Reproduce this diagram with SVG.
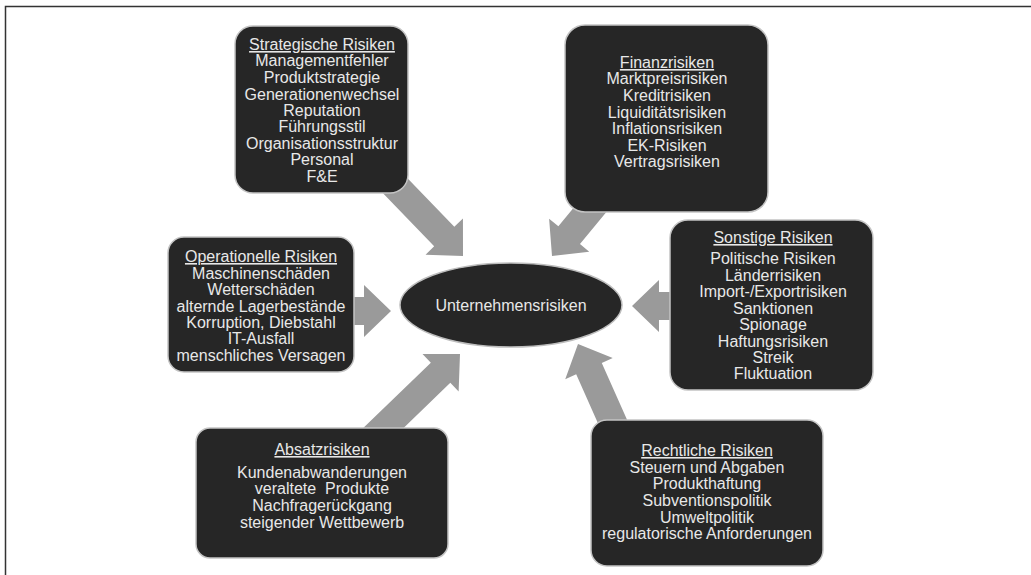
<svg xmlns="http://www.w3.org/2000/svg" width="1031" height="575" viewBox="0 0 1031 575">
<defs>
<style>
.box{fill:#262626;stroke:#c4c4c4;stroke-width:1.5}
.t{font-family:"Liberation Sans",Arial,sans-serif;font-size:16px;fill:#e8e8e8;text-anchor:middle}
.h{text-decoration:underline}
.arr{fill:#9a9a9a}
</style>
<path id="ar" d="M0,0 L-27,-26 L-27,-14 L-125,-14 L-125,14 L-27,14 L-27,26 Z"/>
</defs>
<rect width="1031" height="575" fill="#fff"/>
<path d="M5.5,575 V6.5 H1031" fill="none" stroke="#333" stroke-width="1.5"/>
<g id="connectors" class="arr">
<use href="#ar" transform="translate(463,256) rotate(46)"/>
<use href="#ar" transform="translate(552,256) rotate(129.5)"/>
<use href="#ar" transform="translate(391,311)"/>
<use href="#ar" transform="translate(632,306) rotate(180)"/>
<use href="#ar" transform="translate(460,354) rotate(-44)"/>
<use href="#ar" transform="translate(578,344) rotate(-114)"/>
</g>
<g id="center">
<ellipse cx="511" cy="305" rx="111" ry="42" fill="#262626" stroke="#bdbdbd" stroke-width="1.5"/>
<text class="t" x="511" y="311">Unternehmensrisiken</text>
</g>
<g id="strategische">
<rect class="box" x="235" y="26" width="173" height="167" rx="18"/>
<text class="t"><tspan class="h" x="322" y="50">Strategische Risiken</tspan><tspan x="322" y="66">Managementfehler</tspan><tspan x="322" y="83">Produktstrategie</tspan><tspan x="322" y="100">Generationenwechsel</tspan><tspan x="322" y="116">Reputation</tspan><tspan x="322" y="132">Führungsstil</tspan><tspan x="322" y="149">Organisationsstruktur</tspan><tspan x="322" y="165">Personal</tspan><tspan x="322" y="182">F&amp;E</tspan></text>
</g>
<g id="finanz">
<rect class="box" x="565" y="25" width="203" height="187" rx="20"/>
<text class="t"><tspan class="h" x="667" y="68">Finanzrisiken</tspan><tspan x="667" y="84">Marktpreisrisiken</tspan><tspan x="667" y="101">Kreditrisiken</tspan><tspan x="667" y="118">Liquiditätsrisiken</tspan><tspan x="667" y="134">Inflationsrisiken</tspan><tspan x="667" y="151">EK-Risiken</tspan><tspan x="667" y="167">Vertragsrisiken</tspan></text>
</g>
<g id="operationelle">
<rect class="box" x="168" y="237" width="186" height="135" rx="16"/>
<text class="t"><tspan class="h" x="261" y="262">Operationelle Risiken</tspan><tspan x="261" y="279">Maschinenschäden</tspan><tspan x="261" y="295">Wetterschäden</tspan><tspan x="261" y="312">alternde Lagerbestände</tspan><tspan x="261" y="328">Korruption, Diebstahl</tspan><tspan x="261" y="344">IT-Ausfall</tspan><tspan x="261" y="361">menschliches Versagen</tspan></text>
</g>
<g id="sonstige">
<rect class="box" x="670" y="220" width="203" height="170" rx="18"/>
<text class="t"><tspan class="h" x="773" y="243">Sonstige Risiken</tspan><tspan x="773" y="264">Politische Risiken</tspan><tspan x="773" y="281">Länderrisiken</tspan><tspan x="773" y="297">Import-/Exportrisiken</tspan><tspan x="773" y="314">Sanktionen</tspan><tspan x="773" y="330">Spionage</tspan><tspan x="773" y="347">Haftungsrisiken</tspan><tspan x="773" y="363">Streik</tspan><tspan x="773" y="379">Fluktuation</tspan></text>
</g>
<g id="absatz">
<rect class="box" x="196" y="428" width="252" height="130" rx="14"/>
<text class="t" xml:space="preserve"><tspan class="h" x="322" y="455">Absatzrisiken</tspan><tspan x="322" y="478">Kundenabwanderungen</tspan><tspan x="322" y="494">veraltete  Produkte</tspan><tspan x="322" y="511">Nachfragerückgang</tspan><tspan x="322" y="528">steigender Wettbewerb</tspan></text>
</g>
<g id="rechtliche">
<rect class="box" x="591" y="420" width="232" height="146" rx="16"/>
<text class="t"><tspan class="h" x="707" y="456">Rechtliche Risiken</tspan><tspan x="707" y="473">Steuern und Abgaben</tspan><tspan x="707" y="489">Produkthaftung</tspan><tspan x="707" y="506">Subventionspolitik</tspan><tspan x="707" y="523">Umweltpolitik</tspan><tspan x="707" y="539">regulatorische Anforderungen</tspan></text>
</g>
</svg>
